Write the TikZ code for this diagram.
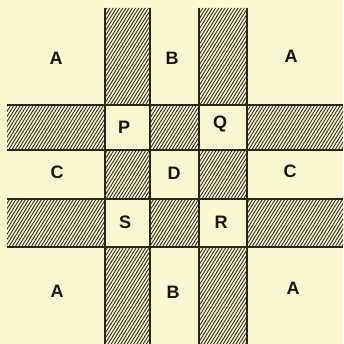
\documentclass[tikz,border=0pt]{standalone}
\usepackage{fontspec}
\setmainfont{Liberation Sans}
\definecolor{paper}{RGB}{252,247,210}
\definecolor{ink}{RGB}{50,34,26}
\definecolor{txt}{RGB}{25,18,14}
\begin{document}
\begin{tikzpicture}[x=1pt,y=-1pt,
  lbl/.style={font=\fontsize{18}{18}\selectfont\bfseries, text=txt, inner sep=0pt},
  edge/.style={draw=ink, line width=1.2pt},
  hatchline/.style={draw=ink, line width=0.85pt}]
\fill[paper] (0,0) rectangle (343,344);
\useasboundingbox (0,0) rectangle (343,344);
\begin{scope}
\clip (105,8) rectangle (150,105) (105,150) rectangle (150,199) (105,247) rectangle (150,344)
      (199,8) rectangle (247,105) (199,150) rectangle (247,199) (199,247) rectangle (247,344)
      (7,105) rectangle (105,150) (150,105) rectangle (199,150) (247,105) rectangle (343,150)
      (7,199) rectangle (105,247) (150,199) rectangle (199,247) (247,199) rectangle (343,247);
\foreach \i in {-260,-256.8,...,360} \draw[hatchline] (\i,344) -- ++(215,-344);
\end{scope}
\foreach \x in {105,150,199,247} \draw[edge] (\x,8) -- (\x,344);
\foreach \y in {105,150,199,247} \draw[edge] (7,\y) -- (343,\y);
\node[lbl] (A1) at (56,58) {A};
\node[lbl] (B1) at (172,58) {B};
\node[lbl] (A2) at (291,56) {A};
\node[lbl] (P) at (124,127) {P};
\node[lbl] (Q) at (220,124) {Q};
\node[lbl] (C1) at (57,172) {C};
\node[lbl] (D) at (174,173) {D};
\node[lbl] (C2) at (290,171) {C};
\node[lbl] (S) at (125,222) {S};
\node[lbl] (R) at (221,222) {R};
\node[lbl] (A3) at (57,291) {A};
\node[lbl] (B2) at (173,292) {B};
\node[lbl] (A4) at (293,288) {A};
\end{tikzpicture}
\end{document}
